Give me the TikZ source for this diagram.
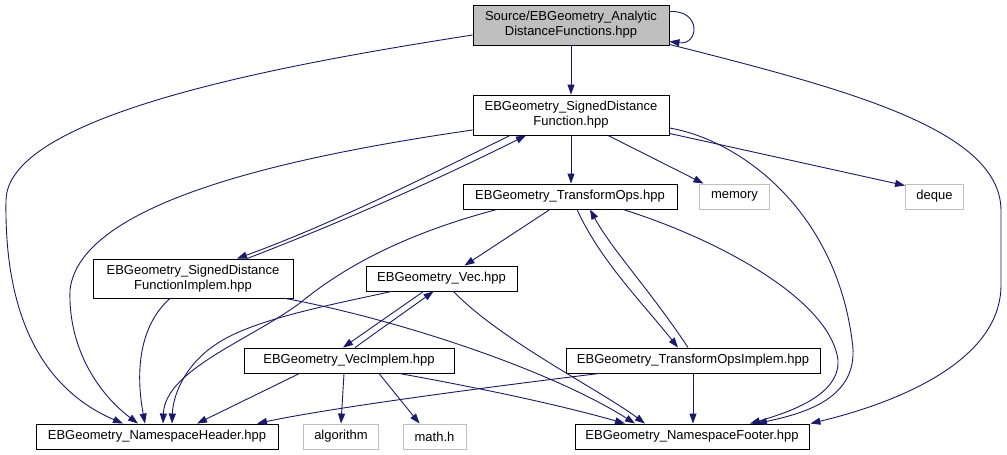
\documentclass[tikz,border=0pt]{standalone}
\usepackage{fontspec}
\setmainfont{Liberation Sans}
\usetikzlibrary{arrows.meta,calc}
\definecolor{edgec}{HTML}{191970}
\definecolor{grayfill}{HTML}{BFBFBF}
\definecolor{grayline}{HTML}{BFBFBF}
\tikzset{
  box/.style={draw=black,line width=0.9pt,fill=white,inner sep=0pt,align=center,
    font=\fontsize{13}{15}\selectfont},
  rootbox/.style={box,fill=grayfill},
  sysbox/.style={box,draw=grayline},
  edge/.style={draw=edgec,line width=0.9pt,-{Triangle[length=10pt,width=7pt]}},
}
\begin{document}
\begin{tikzpicture}[x=1pt,y=-1pt]
\useasboundingbox (0,0) rectangle (1007,455);
\fill[white] (0,0) rectangle (1007,455);
% nodes
\node[rootbox,minimum width=196pt,minimum height=40pt] (root) at (571,25) {Source/EBGeometry\_Analytic\\DistanceFunctions.hpp};
\node[box,minimum width=196pt,minimum height=40pt] (sdf) at (571,115) {EBGeometry\_SignedDistance\\Function.hpp};
\node[box,minimum width=214pt,minimum height=25pt] (to) at (570,196.5) {EBGeometry\_TransformOps.hpp};
\node[sysbox,minimum width=70pt,minimum height=25pt] (mem) at (734.5,196.5) {memory};
\node[sysbox,minimum width=58pt,minimum height=25pt] (deq) at (934.5,196.5) {deque};
\node[box,minimum width=200pt,minimum height=39pt] (sdfi) at (193,278.5) {EBGeometry\_SignedDistance\\FunctionImplem.hpp};
\node[box,minimum width=151pt,minimum height=25pt] (vec) at (441.5,278.5) {EBGeometry\_Vec.hpp};
\node[box,minimum width=210pt,minimum height=25pt] (veci) at (349,360.5) {EBGeometry\_VecImplem.hpp};
\node[box,minimum width=254pt,minimum height=25pt] (toi) at (693,360.5) {EBGeometry\_TransformOpsImplem.hpp};
\node[box,minimum width=242pt,minimum height=25pt] (nh) at (157,436.5) {EBGeometry\_NamespaceHeader.hpp};
\node[sysbox,minimum width=75pt,minimum height=25pt] (alg) at (341,436.5) {algorithm};
\node[sysbox,minimum width=63pt,minimum height=25pt] (math) at (434.5,436.5) {math.h};
\node[box,minimum width=234pt,minimum height=25pt] (nf) at (692,436.5) {EBGeometry\_NamespaceFooter.hpp};
% edges from root
\draw[edge] ($(root.north east)+(0,7)$) .. controls +(32,-2) and +(30,4) .. ($(root.south east)+(0,-4)$);
\draw[edge] (root.south) -- (sdf.north);
\draw[edge] ($(root.west)+(0,10)$) .. controls (300,62) and (8,112) .. (6,200)
   .. controls (4,320) and (45,390) .. ($(nh.north)+(-34,0)$);
\draw[edge] ($(root.south east)+(0,-1)$) .. controls (850,90) and (1000,130) .. (1001,210)
   -- (1001,285) .. controls (1001,360) and (900,402) .. ($(nf.north east)+(1,0)$);
% edges from sdf
\draw[edge] (sdf.south) -- (sdf.south |- to.north);
\draw[edge] ($(sdf.south)+(37,0)$) -- ($(mem.north)+(-31,0)$);
\draw[edge] ($(sdf.south east)+(0,-2)$) -- ($(deq.north west)+(0,2)$);
\draw[edge] ($(sdf.east)+(0,13)$) .. controls (740,140) and (835,210) .. (852,340)
   .. controls (862,400) and (800,414) .. ($(nf.north)+(65,0)$);
\draw[edge] ($(sdf.south)+(-61,0)$) .. controls (420,180) and (327,226) .. ($(sdfi.north)+(44,0)$);
\draw[edge] ($(sdfi.north)+(54,0)$) .. controls (337,224) and (435,181) .. ($(sdf.south)+(-45,0)$);
\draw[edge] ($(sdf.west)+(0,15)$) .. controls (300,155) and (80,200) .. (70,290)
   .. controls (68,350) and (100,395) .. ($(nh.north)+(-19,0)$);
% edges from transform ops
\draw[edge] ($(to.south)+(-73,0)$) .. controls (400,235) and (340,270) .. (300,303)
   .. controls (250,340) and (165,370) .. ($(nh.north)+(6,0)$);
\draw[edge] ($(to.south)+(-20,0)$) -- ($(vec.north)+(23,0)$);
\draw[edge] ($(to.south)+(7,0)$) .. controls (600,260) and (640,300) .. ($(toi.north)+(-15,0)$);
\draw[edge] ($(toi.north)+(-5,0)$) .. controls (650,290) and (612,250) .. ($(to.south)+(20,0)$);
\draw[edge] ($(to.south)+(53,0)$) .. controls (720,240) and (830,300) .. (838,360)
   .. controls (840,395) and (790,412) .. ($(nf.north)+(58,0)$);
% edges from sdf implem
\draw[edge] ($(sdfi.south)+(-23,0)$) .. controls (140,325) and (135,370) .. ($(nh.north)+(-12,0)$);
\draw[edge] ($(sdfi.south east)+(-8,0)$) .. controls (400,320) and (550,370) .. ($(nf.north)+(-57,0)$);
% edges from vec
\draw[edge] ($(vec.south)+(-18,0)$) -- ($(veci.north)+(-6,0)$);
\draw[edge] ($(veci.north)+(6,0)$) -- ($(vec.south)+(-8,0)$);
\draw[edge] ($(vec.south west)+(26,0)$) .. controls (330,305) and (250,320) .. (215,345)
   .. controls (185,365) and (173,395) .. ($(nh.north)+(15,0)$);
\draw[edge] ($(vec.south)+(12,0)$) .. controls (500,340) and (600,390) .. ($(nf.north)+(-47,0)$);
% edges from vec implem
\draw[edge] ($(veci.south west)+(56,0)$) -- ($(nh.north)+(40,0)$);
\draw[edge] ($(veci.south)+(-5,0)$) -- (alg.north);
\draw[edge] ($(veci.south)+(30,0)$) -- ($(math.north)+(-15,0)$);
\draw[edge] ($(veci.south)+(50,0)$) .. controls (480,388) and (560,405) .. ($(nf.north)+(-67,0)$);
% edges from transform ops implem
\draw[edge] ($(toi.south west)+(34,0)$) .. controls (480,388) and (330,408) .. ($(nh.north)+(100,0)$);
\draw[edge] (toi.south) -- (toi.south |- nf.north);
\end{tikzpicture}
\end{document}
